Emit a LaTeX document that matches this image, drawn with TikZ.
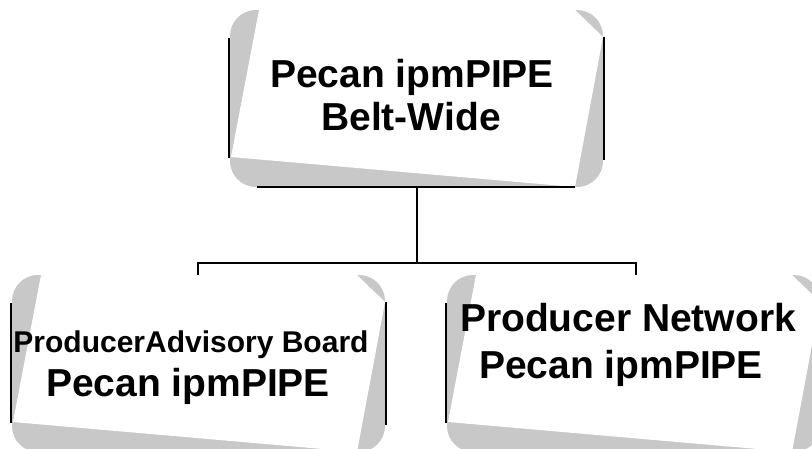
\documentclass[tikz,border=0pt]{standalone}
\usepackage{fontspec}
\setmainfont{Liberation Sans}
\definecolor{curlgray}{RGB}{200,200,200}
\tikzset{
  edge/.style={line width=2pt, draw=black},
  link/.style={line width=2pt, draw=black},
  big/.style={font=\fontsize{39}{44}\selectfont\bfseries, inner sep=0pt, anchor=base},
  small/.style={font=\fontsize{30}{34}\selectfont\bfseries, inner sep=0pt, anchor=base},
  curlbox/.pic={
    \fill[curlgray, rounded corners=26pt] (0,0) rectangle (373,177);
    \fill[white] (29,0) -- (345,0) -- (373,27) -- (345,177) -- (1,147) -- cycle;
    \draw[edge] (-1,28) -- (-1,148);
    \draw[edge] (374,27) -- (374,150);
    \draw[edge] (27,177) -- (345,177);
  }
}
\begin{document}
\begin{tikzpicture}[x=1pt,y=-1pt]
\useasboundingbox (0,0) rectangle (812,448);
% boxes
\pic at (230,10) {curlbox};
\pic at (12,275) {curlbox};
\pic at (447,275) {curlbox};
% texts
\node[big] (beltA) at (412,87) {Pecan ipmPIPE};
\node[big] (beltB) at (411,130) {Belt-Wide};
\node[small] (advA) at (191,352) {ProducerAdvisory Board};
\node[big] (advB) at (188,396) {Pecan ipmPIPE};
\node[big] (netA) at (628,331) {Producer Network};
\node[big] (netB) at (621,378) {Pecan ipmPIPE};
% connectors
\coordinate (topS) at (417,187);
\coordinate (split) at (417,263);
\coordinate (advN) at (198,275);
\coordinate (netN) at (636,275);
\draw[link] (topS) -- (split);
\draw[link] (advN) |- (split) -| (netN);
\end{tikzpicture}
\end{document}
